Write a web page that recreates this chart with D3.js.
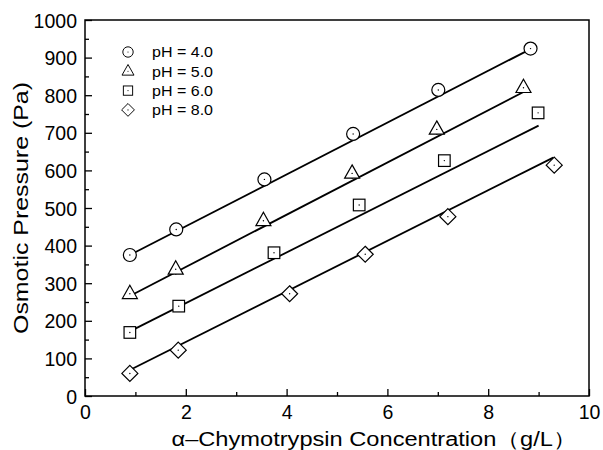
<!DOCTYPE html>
<html>
<head>
<meta charset="utf-8">
<script src="https://cdn.jsdelivr.net/npm/d3@7"></script>
<style>
  html, body { margin: 0; padding: 0; background: #fff; }
  svg { display: block; }
  text { font-family: "Liberation Sans", Arial, sans-serif; fill: #000; }
</style>
</head>
<body>
<svg id="chart" width="603" height="450"></svg>
<script>
// Measured osmotic pressure of alpha-chymotrypsin solutions at several pH values
const seriesNames = ["pH = 4.0", "pH = 5.0", "pH = 6.0", "pH = 8.0"];
const symbols = ["circle", "triangle", "square", "diamond"];

const concPH4 = [0.89, 1.81, 3.56, 5.32, 7.01, 8.84];
const pressPH4 = [375, 443, 576, 697, 814, 924];
const errPH4 = [4, 4, 4, 4, 4, 4];

const concPH5 = [0.89, 1.80, 3.54, 5.30, 6.98, 8.70];
const pressPH5 = [272, 337, 466, 592, 709, 820];
const errPH5 = [14, 14, 14, 14, 14, 8];

const concPH6 = [0.89, 1.86, 3.75, 5.44, 7.13, 8.99];
const pressPH6 = [169, 239, 381, 508, 626, 753];
const errPH6 = [5, 5, 5, 5, 5, 5];

const concPH8 = [0.89, 1.85, 4.06, 5.56, 7.20, 9.31];
const pressPH8 = [60, 122, 272, 377, 477, 614];
const errPH8 = [3, 3, 3, 3, 3, 3];

// Linear fit lines: [x start, y start, x end, y end]
const fitPH4 = [0.89, 375, 8.80, 920];
const fitPH5 = [0.89, 266, 8.69, 808];
const fitPH6 = [0.89, 172, 9.00, 719];
const fitPH8 = [0.89, 69, 9.29, 634];

const xTicks = [0, 2, 4, 6, 8, 10];
const yTicks = [0, 100, 200, 300, 400, 500, 600, 700, 800, 900, 1000];

const series = [
  { name: seriesNames[0], sym: symbols[0], x: concPH4, y: pressPH4, e: errPH4, fit: fitPH4 },
  { name: seriesNames[1], sym: symbols[1], x: concPH5, y: pressPH5, e: errPH5, fit: fitPH5 },
  { name: seriesNames[2], sym: symbols[2], x: concPH6, y: pressPH6, e: errPH6, fit: fitPH6 },
  { name: seriesNames[3], sym: symbols[3], x: concPH8, y: pressPH8, e: errPH8, fit: fitPH8 }
];

const svg = d3.select("#chart");
const plotLeft = 85, plotRight = 589, plotTop = 20, plotBottom = 396;

const x = d3.scaleLinear().domain([0, 10]).range([plotLeft, plotRight]);
const y = d3.scaleLinear().domain([0, 1000]).range([plotBottom, plotTop]);

// Frame
svg.append("rect")
  .attr("x", plotLeft).attr("y", plotTop)
  .attr("width", plotRight - plotLeft).attr("height", plotBottom - plotTop)
  .attr("fill", "none").attr("stroke", "#000").attr("stroke-width", 1.5);

// Axes with inward ticks
const xAxis = svg.append("g").attr("transform", `translate(0,${plotBottom})`)
  .call(d3.axisBottom(x).tickValues(xTicks).tickSizeInner(-7).tickSizeOuter(0).tickPadding(9).tickFormat(d3.format("d")));
const xMinor = svg.append("g").attr("transform", `translate(0,${plotBottom})`)
  .call(d3.axisBottom(x).tickValues(d3.range(1, 10, 2)).tickSizeInner(-4).tickSizeOuter(0).tickFormat(""));
const yAxis = svg.append("g").attr("transform", `translate(${plotLeft},0)`)
  .call(d3.axisLeft(y).tickValues(yTicks).tickSizeInner(-7).tickSizeOuter(0).tickPadding(8).tickFormat(d3.format("d")));
const yMinor = svg.append("g").attr("transform", `translate(${plotLeft},0)`)
  .call(d3.axisLeft(y).tickValues(d3.range(50, 1000, 100)).tickSizeInner(-4).tickSizeOuter(0).tickFormat(""));

[xAxis, xMinor, yAxis, yMinor].forEach(g => {
  g.select(".domain").remove();
  g.selectAll("line").attr("stroke", "#000").attr("stroke-width", 1.3);
  g.selectAll("text").attr("font-size", 19.5).attr("fill", "#000")
    .attr("font-family", "'Liberation Sans', Arial, sans-serif");
});
yAxis.selectAll("text").attr("dy", "0.36em");

// Axis titles
svg.append("text")
  .attr("x", 374).attr("y", 446)
  .attr("text-anchor", "middle").attr("font-size", 20)
  .attr("textLength", 405).attr("lengthAdjust", "spacingAndGlyphs")
  .text("α–Chymotrypsin Concentration（g/L）");
svg.append("text")
  .attr("transform", `translate(28,${(plotTop + plotBottom) / 2}) rotate(-90)`)
  .attr("text-anchor", "middle").attr("font-size", 20)
  .attr("textLength", 252).attr("lengthAdjust", "spacingAndGlyphs")
  .text("Osmotic Pressure (Pa)");

// Marker shapes
function marker(g, sym) {
  if (sym === "circle") {
    g.append("circle").attr("r", 6.5);
  } else if (sym === "triangle") {
    g.append("path").attr("d", "M0,-8.5 L7.5,4.8 L-7.5,4.8 Z");
  } else if (sym === "square") {
    g.append("rect").attr("x", -5.8).attr("y", -5.8).attr("width", 11.6).attr("height", 11.6);
  } else {
    g.append("path").attr("d", "M0,-8 L8,0 L0,8 L-8,0 Z");
  }
  g.selectAll("circle,path,rect").attr("fill", "#fff").attr("stroke", "#000").attr("stroke-width", 1.2);
  g.append("circle").attr("r", 0.7).attr("fill", "#000");
}

const plot = svg.append("g");

series.forEach(s => {
  const pts = s.x.map((v, i) => ({ x: v, y: s.y[i], e: s.e[i] }));

  // Error bars
  plot.append("g").selectAll("line").data(pts).join("line")
    .attr("x1", d => x(d.x)).attr("x2", d => x(d.x))
    .attr("y1", d => y(d.y - d.e)).attr("y2", d => y(d.y + d.e))
    .attr("stroke", "#000").attr("stroke-width", 1.5);

  // Fit line
  plot.append("line")
    .attr("x1", x(s.fit[0])).attr("y1", y(s.fit[1]))
    .attr("x2", x(s.fit[2])).attr("y2", y(s.fit[3]))
    .attr("stroke", "#000").attr("stroke-width", 1.8);

  // Markers
  plot.append("g").selectAll("g").data(pts).join("g")
    .attr("transform", d => `translate(${x(d.x)},${y(d.y)})`)
    .each(function () { marker(d3.select(this), s.sym); });
});

// Legend
const legend = svg.append("g");
series.forEach((s, i) => {
  const yy = 52 + i * 19.3;
  const g = legend.append("g").attr("transform", `translate(128,${yy})`);
  const m = g.append("g").attr("transform", "scale(0.8)");
  marker(m, s.sym);
  legend.append("text")
    .attr("x", 152).attr("y", yy).attr("dy", "0.36em")
    .attr("font-size", 15).attr("textLength", 61).attr("lengthAdjust", "spacingAndGlyphs")
    .text(s.name);
});
</script>
</body>
</html>
